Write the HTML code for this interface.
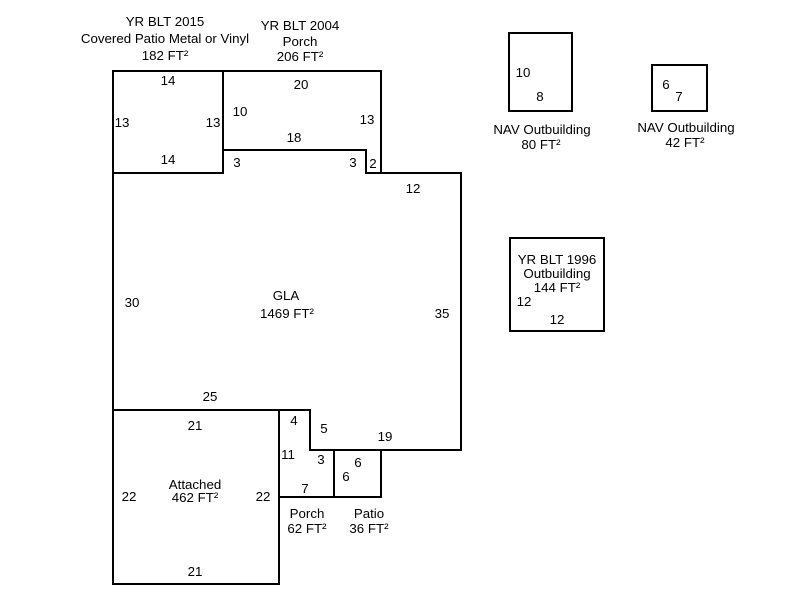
<!DOCTYPE html>
<html><head><style>body{margin:0;background:#fff}svg{display:block}text{font-family:"Liberation Sans",Arial,sans-serif;font-size:13.3px;fill:#000}</style></head><body>
<svg width="800" height="600" xmlns="http://www.w3.org/2000/svg">
<g fill="none" stroke="#000" stroke-width="2">
<rect x="113" y="71" width="110" height="102"/>
<path d="M223,71 H381 V173 H366 V150 H223 Z"/>
<path d="M113,173 H223 V150 H366 V173 H461 V450 H310 V410 H113 Z"/>
<rect x="113" y="410" width="166" height="174"/>
<path d="M279,410 H310 V450 H334 V497 H279 Z"/>
<rect x="334" y="450" width="47" height="47"/>
<rect x="509" y="33" width="63" height="78"/>
<rect x="652" y="65" width="55" height="46"/>
<rect x="510" y="238" width="94" height="93"/>
</g>
<g text-anchor="middle">
<text x="165" y="26">YR BLT 2015</text>
<text x="165" y="43">Covered Patio Metal or Vinyl</text>
<text x="165" y="60">182 FT²</text>
<text x="300" y="30">YR BLT 2004</text>
<text x="300" y="46">Porch</text>
<text x="300" y="61">206 FT²</text>
<text x="168" y="85">14</text><text x="122" y="127">13</text><text x="213" y="127">13</text><text x="168" y="164">14</text>
<text x="301" y="89">20</text><text x="240" y="116">10</text><text x="367" y="124">13</text><text x="294" y="142">18</text>
<text x="237" y="167">3</text><text x="353" y="167">3</text><text x="373" y="168">2</text>
<text x="413" y="193">12</text><text x="132" y="307">30</text><text x="442" y="318">35</text>
<text x="286" y="300">GLA</text><text x="287" y="318">1469 FT²</text>
<text x="210" y="401">25</text><text x="195" y="430">21</text><text x="294" y="425">4</text><text x="324" y="433">5</text><text x="385" y="441">19</text>
<text x="288" y="459">11</text><text x="321" y="464">3</text><text x="358" y="467">6</text><text x="346" y="481">6</text><text x="305" y="493">7</text>
<text x="129" y="501">22</text><text x="263" y="501">22</text>
<text x="195" y="489">Attached</text><text x="195" y="502">462 FT²</text>
<text x="195" y="576">21</text>
<text x="307" y="518">Porch</text><text x="307" y="533">62 FT²</text>
<text x="369" y="518">Patio</text><text x="369" y="533">36 FT²</text>
<text x="523" y="77">10</text><text x="540" y="101">8</text>
<text x="542" y="134">NAV Outbuilding</text><text x="541" y="149">80 FT²</text>
<text x="666" y="89">6</text><text x="679" y="101">7</text>
<text x="686" y="132">NAV Outbuilding</text><text x="685" y="147">42 FT²</text>
<text x="557" y="264">YR BLT 1996</text><text x="557" y="278">Outbuilding</text><text x="557" y="292">144 FT²</text>
<text x="524" y="306">12</text><text x="557" y="324">12</text>
</g>
</svg>
</body></html>
